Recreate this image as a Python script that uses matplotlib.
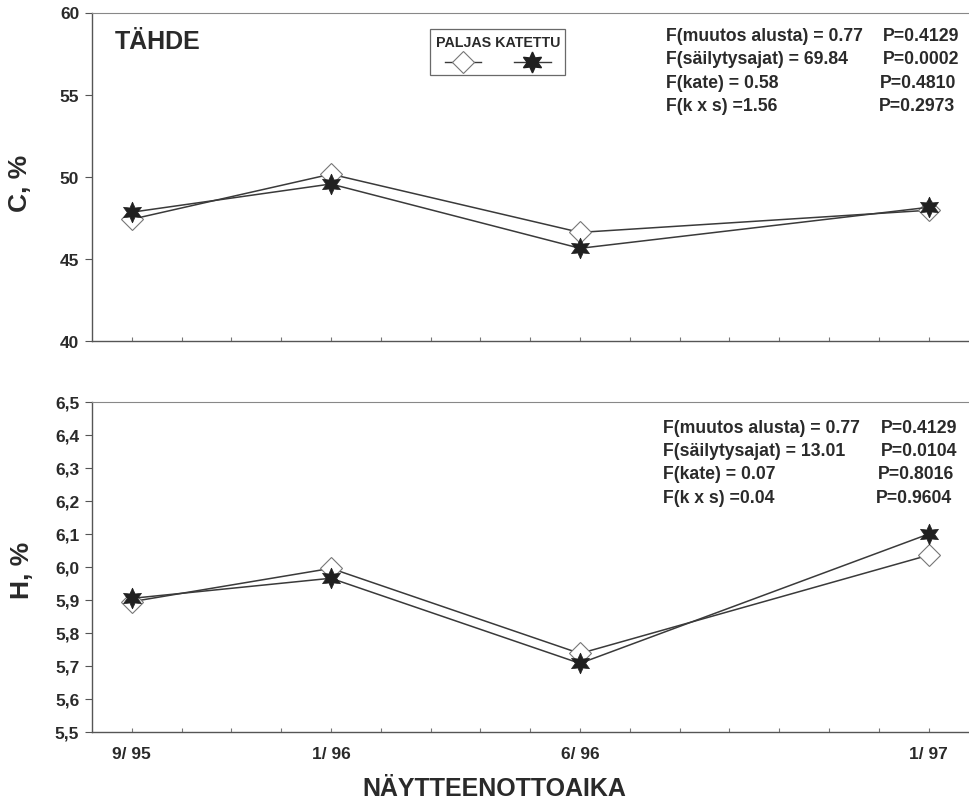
import matplotlib
matplotlib.use("Agg")
import matplotlib.pyplot as plt
from matplotlib.ticker import FixedLocator, FuncFormatter
from matplotlib.lines import Line2D

plt.rcParams['font.family'] = ['Liberation Sans', 'DejaVu Sans']
plt.rcParams['font.weight'] = 'bold'

# ---- data ----
months = [0, 4, 9, 16]                      # months since 9/95
tick_labels = ['9/ 95', '1/ 96', '6/ 96', '1/ 97']
series_names = ['PALJAS', 'KATETTU']

c_paljas = [47.4, 50.15, 46.6, 47.95]
c_katettu = [47.83, 49.55, 45.63, 48.13]
h_paljas = [5.894, 5.995, 5.737, 6.035]
h_katettu = [5.904, 5.965, 5.707, 6.099]

stats_c = [("F(muutos alusta) = 0.77", "P=0.4129"),
           ("F(säilytysajat) = 69.84", "P=0.0002"),
           ("F(kate) = 0.58", "P=0.4810"),
           ("F(k x s) =1.56", "P=0.2973")]
stats_h = [("F(muutos alusta) = 0.77", "P=0.4129"),
           ("F(säilytysajat) = 13.01", "P=0.0104"),
           ("F(kate) = 0.07", "P=0.8016"),
           ("F(k x s) =0.04", "P=0.9604")]

W, H = 970, 803
fig = plt.figure(figsize=(W / 100, H / 100), dpi=100)

def box(l, t, r, b):
    return [l / W, 1 - b / H, (r - l) / W, (b - t) / H]

ax1 = fig.add_axes(box(91.7, 13.5, 970, 341.7))
ax2 = fig.add_axes(box(91.7, 402.7, 970, 732.7))

ink = '#2a2a2a'
line_col = '#3a3a3a'

def style(ax, ylim, yticks, fmt):
    ax.set_xlim(-0.803, 16.83)
    ax.set_ylim(*ylim)
    ax.spines['right'].set_visible(False)
    ax.spines['top'].set_color('#888888')
    ax.spines['top'].set_linewidth(0.8)
    ax.spines['left'].set_color('#555555')
    ax.spines['bottom'].set_color('#555555')
    ax.spines['left'].set_linewidth(1.0)
    ax.spines['bottom'].set_linewidth(1.0)
    ax.yaxis.set_major_locator(FixedLocator(yticks))
    ax.yaxis.set_major_formatter(FuncFormatter(fmt))
    ax.xaxis.set_major_locator(FixedLocator(months))
    ax.xaxis.set_minor_locator(FixedLocator(list(range(0, 17))))
    ax.tick_params(axis='y', direction='out', length=5, width=0.8,
                   colors='#555555', labelcolor=ink, labelsize=12.5, pad=4)
    ax.tick_params(axis='x', which='both', direction='in', length=3,
                   width=0.8, colors='#777777', labelcolor=ink,
                   labelsize=12.5, pad=10)
    for lab in ax.get_yticklabels():
        lab.set_fontweight('bold')

def plot_series(ax, yp, yk):
    ax.plot(months, yp, color=line_col, lw=1.1, marker='D', ms=11.5,
            mfc='white', mec='#777777', mew=0.8, zorder=3)
    ax.plot(months, yk, color=line_col, lw=1.1, marker=(6, 1, 0), ms=15,
            mfc='#202020', mec='#202020', mew=0.5, zorder=4)

plot_series(ax1, c_paljas, c_katettu)
plot_series(ax2, h_paljas, h_katettu)

style(ax1, (40, 60), [40, 45, 50, 55, 60], lambda v, p: f"{v:.0f}")
style(ax2, (5.5, 6.5), [5.5 + 0.1 * i for i in range(11)],
      lambda v, p: f"{v:.1f}".replace('.', ','))

ax1.set_xticklabels([])
ax2.set_xticklabels(tick_labels, fontweight='bold')

fig.text(20 / W, 1 - 183 / H, 'C, %', rotation=90, ha='center', va='center',
         fontsize=19, fontweight='bold', color=ink)
fig.text(22 / W, 1 - 570 / H, 'H, %', rotation=90, ha='center', va='center',
         fontsize=19, fontweight='bold', color=ink)
fig.text(494 / W, 1 - 789 / H, 'NÄYTTEENOTTOAIKA', ha='center', va='center',
         fontsize=18, fontweight='bold', color=ink)

fig.text(115 / W, 1 - 42 / H, 'TÄHDE', ha='left', va='center',
         fontsize=18, fontweight='bold', color=ink)

def put_stats(rows, y0, xf, xps):
    for i, (f_txt, p_txt) in enumerate(rows):
        y = 1 - (y0 + 23.3 * i) / H
        fig.text(xf / W, y, f_txt, ha='left', va='center', fontsize=12.7,
                 fontweight='bold', color=ink)
        fig.text(xps[i] / W, y, p_txt, ha='left', va='center', fontsize=12.7,
                 fontweight='bold', color=ink)

put_stats(stats_c, 36.7, 666, [883, 883, 880, 879])
put_stats(stats_h, 428.3, 663, [881, 881, 878, 876])

handles = [Line2D([], [], color=line_col, lw=1.0, marker='D', ms=11.5,
                  mfc='white', mec='#777777', mew=0.8),
           Line2D([], [], color=line_col, lw=1.0, marker=(6, 1, 0), ms=15,
                  mfc='#202020', mec='#202020')]
leg = ax1.legend(handles, ['', ''], ncol=2, title=' '.join(series_names),
                 loc='upper left', bbox_to_anchor=((430 - 91.7) / (970 - 91.7),
                                                   1 - (30 - 13.5) / (341.7 - 13.5)),
                 borderaxespad=0.0,
                 frameon=True, fancybox=False, edgecolor='#444444',
                 handlelength=2.6, handletextpad=0.0, columnspacing=2.4,
                 borderpad=0.4, title_fontproperties={'weight': 'bold', 'size': 10.3})
leg.get_frame().set_linewidth(0.9)
leg.get_title().set_color(ink)

fig.savefig('out.png', dpi=100, facecolor='white')
